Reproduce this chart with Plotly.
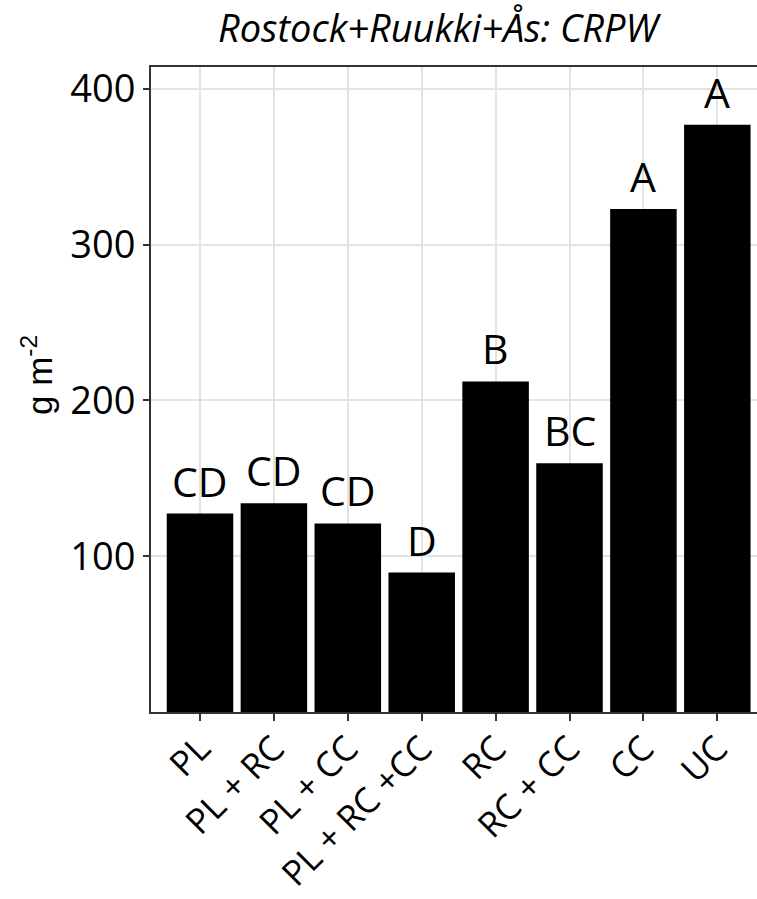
import plotly.graph_objects as go

categories = ["PL", "PL + RC", "PL + CC", "PL + RC +CC", "RC", "RC + CC", "CC", "UC"]
values = [127.4, 134.0, 121.0, 89.5, 212.2, 159.7, 322.9, 377.0]
letters = ["CD", "CD", "CD", "D", "B", "BC", "A", "A"]
y_ticks = [100, 200, 300, 400]

W, H = 757, 899
L, R, T, B = 151, 0, 67, 187
pw = W - L - R
ph = H - T - B

fig = go.Figure()
fig.add_trace(go.Bar(
    x=list(range(len(categories))), y=values,
    marker=dict(color="black", line=dict(width=0)),
    width=0.9, showlegend=False, hoverinfo="skip",
))

for i, (v, lab) in enumerate(zip(values, letters)):
    fig.add_annotation(x=i, y=v, text=lab, showarrow=False, yanchor="bottom",
                       yshift=3, font=dict(family="Open Sans", size=41, color="black"))

fig.add_annotation(xref="paper", yref="paper", x=(37 - L) / pw, y=(712 - 375) / ph,
                   text="g m<sup>-2</sup>", textangle=-90, showarrow=False,
                   xanchor="center", yanchor="middle",
                   font=dict(family="Liberation Sans", size=35, color="black"))

fig.update_layout(
    width=W, height=H,
    margin=dict(l=L, r=R, t=T, b=B, autoexpand=False),
    paper_bgcolor="white", plot_bgcolor="white",
    title=dict(text="<i>Rostock+Ruukki+Ås: CRPW</i>", x=438 / W, xanchor="center",
               y=1 - 29 / H, yanchor="middle",
               font=dict(family="Open Sans", size=38, color="black")),
    xaxis=dict(
        range=[-0.663, 7.537], tickmode="array", tickvals=list(range(len(categories))),
        ticktext=categories, tickangle=-45, showgrid=True, gridcolor="#e3e3e3", gridwidth=1.5,
        showline=True, linecolor="#333333", linewidth=2, mirror=True, automargin=False,
        ticks="outside", ticklen=7, tickcolor="#333333", tickwidth=1.5,
        ticklabelstandoff=-7,
        tickfont=dict(family="Open Sans", size=35, color="black"), zeroline=False,
    ),
    yaxis=dict(
        range=[0, 414], tickmode="array", tickvals=y_ticks, automargin=False,
        showgrid=True, gridcolor="#e3e3e3", gridwidth=1.5,
        showline=True, linecolor="#333333", linewidth=2,
        ticks="outside", ticklen=6, tickcolor="#333333", tickwidth=1.5,
        tickfont=dict(family="Open Sans", size=38, color="black"), zeroline=False,
    ),
)

fig.write_html("out.html", config={"displayModeBar": False},
               post_script="document.body.style.margin='0';")
